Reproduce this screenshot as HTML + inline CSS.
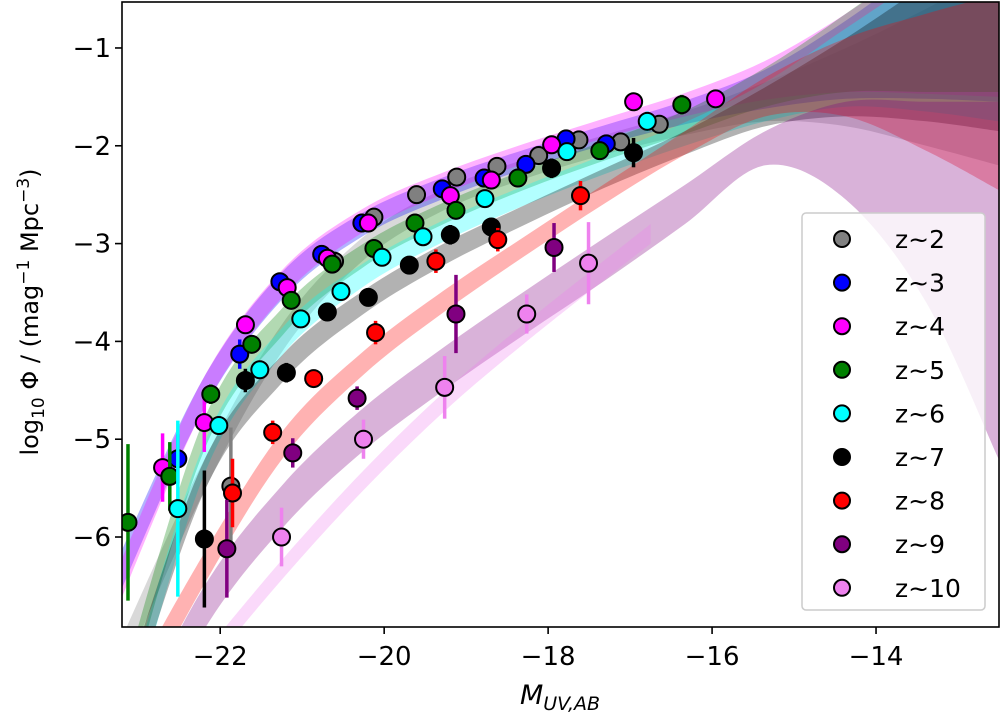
<!DOCTYPE html>
<html><head><meta charset="utf-8">
<style>
html,body{margin:0;padding:0;background:#fff;overflow:hidden;width:1001px;height:720px;}
svg{display:block;font-family:"DejaVu Sans","Liberation Sans",sans-serif;}
</style></head>
<body>
<svg id="chart" width="1001" height="720" viewBox="0 0 1001 720" xmlns="http://www.w3.org/2000/svg">
<defs><clipPath id="plotclip"><rect x="122" y="2" width="877" height="625"/></clipPath></defs>
<g id="bands" clip-path="url(#plotclip)"></g>
<g id="points" clip-path="url(#plotclip)"></g>
<g id="axes"></g>
<g id="legend"></g>
</svg>
<script>
const NS="http://www.w3.org/2000/svg";
// axis scales
const xMin=-23.198, xMax=-12.50, yMin=-6.92, yMax=-0.53;
const X0=122, X1=999, Y0=627, Y1=2;
function sx(m){return X0+(m-xMin)/(xMax-xMin)*(X1-X0);}
function sy(v){return Y0-(v-yMin)/(yMax-yMin)*(Y0-Y1);}

const labels=["z~2","z~3","z~4","z~5","z~6","z~7","z~8","z~9","z~10"];
const colors=["#808080","#0000ff","#ff00ff","#008000","#00ffff","#000000","#ff0000","#800080","#ee82ee"];

// data points
const m2=[-21.87,-20.605,-20.125,-19.605,-19.115,-18.624,-18.115,-17.624,-17.115,-16.644];
const p2=[-5.48,-3.18,-2.73,-2.50,-2.32,-2.21,-2.10,-1.94,-1.96,-1.78];
const e2=[0.6,0.1,0.05,0.05,0.05,0.05,0.05,0.05,0.05,0.05];
const m3=[-22.517,-21.762,-21.272,-20.762,-20.272,-19.291,-18.781,-18.271,-17.781,-17.291];
const p3=[-5.20,-4.13,-3.39,-3.11,-2.79,-2.44,-2.33,-2.19,-1.93,-1.98];
const e3=[0.25,0.15,0.05,0.05,0.05,0.05,0.05,0.05,0.05,0.05];
const m4=[-22.703,-22.194,-21.692,-21.183,-20.693,-20.193,-19.193,-18.693,-17.957,-16.957,-15.957];
const p4=[-5.29,-4.83,-3.83,-3.45,-3.15,-2.79,-2.51,-2.35,-1.99,-1.55,-1.52];
const e4=[0.35,0.3,0.07,0.05,0.05,0.05,0.05,0.05,0.05,0.05,0.08];
const m5=[-23.125,-22.615,-22.115,-21.615,-21.134,-20.634,-20.125,-19.624,-19.124,-18.369,-17.369,-16.369];
const p5=[-5.85,-5.38,-4.54,-4.03,-3.58,-3.21,-3.05,-2.79,-2.66,-2.33,-2.05,-1.58];
const e5=[0.8,0.35,0.1,0.05,0.08,0.05,0.05,0.05,0.05,0.05,0.05,0.1];
const m6=[-22.517,-22.017,-21.517,-21.017,-20.527,-20.026,-19.526,-18.771,-17.771,-16.791];
const p6=[-5.71,-4.86,-4.29,-3.77,-3.49,-3.14,-2.93,-2.54,-2.06,-1.75];
const e6=[0.9,0.1,0.08,0.05,0.05,0.05,0.05,0.05,0.08,0.1];
const m7=[-22.193,-21.693,-21.193,-20.693,-20.193,-19.693,-19.193,-18.693,-17.958,-16.958];
const p7=[-6.02,-4.40,-4.32,-3.70,-3.55,-3.22,-2.91,-2.83,-2.23,-2.07];
const e7=[0.7,0.12,0.1,0.05,0.05,0.05,0.1,0.08,0.1,0.15];
const m8=[-21.85,-21.36,-20.86,-20.105,-19.369,-18.614,-17.605];
const p8=[-5.55,-4.93,-4.38,-3.91,-3.18,-2.96,-2.51];
const e8=[0.35,0.12,0.08,0.12,0.12,0.12,0.15];
const m9=[-21.919,-21.115,-20.33,-19.124,-17.928];
const p9=[-6.12,-5.14,-4.58,-3.72,-3.04];
const e9=[0.5,0.15,0.12,0.4,0.25];
const m10=[-21.252,-20.252,-19.262,-18.261,-17.507];
const p10=[-6.00,-5.00,-4.47,-3.72,-3.20];
const e10=[0.3,0.2,0.32,0.2,0.42];
const seriesM=[m2,m3,m4,m5,m6,m7,m8,m9,m10];
const seriesP=[p2,p3,p4,p5,p6,p7,p8,p9,p10];
const seriesE=[e2,e3,e4,e5,e6,e7,e8,e9,e10];

// model bands (knots in magnitude, centres, half widths)
const bandM=[-23.291,-22.213,-21.233,-20.252,-19.272,-18.291,-17.311,-16.33,-15.35,-14.369,-13.389,-12.506];
const bandHW=[0.2,0.16,0.14,0.12,0.11,0.1,0.1,0.12,0.2,0.4,0.7,1.0];
const c2=[-7.4,-5.4,-3.95,-3.05,-2.55,-2.24,-1.99,-1.77,-1.55,-1.4,-1.3,-1.2];
const c3=[-6.5,-4.55,-3.42,-2.8,-2.43,-2.14,-1.89,-1.66,-1.42,-1.12,-0.82,-0.55];
const c4=[-6.6,-4.55,-3.40,-2.76,-2.38,-2.08,-1.82,-1.58,-1.33,-1.05,-0.77,-0.5];
const c5=[-7.96,-4.99,-3.79,-3.12,-2.69,-2.35,-2.05,-1.76,-1.4,-1.05,-0.75,-0.45];
const c6=[-8.26,-5.24,-3.99,-3.32,-2.87,-2.51,-2.19,-1.88,-1.55,-1.2,-0.95,-0.75];
const c7=[-8.05,-5.41,-4.27,-3.6,-3.11,-2.71,-2.33,-1.97,-1.6,-1.3,-1.05,-0.85];
const c8=[-8.0,-6.35,-5.05,-4.22,-3.59,-3.03,-2.49,-1.97,-1.5,-1.3,-1.35,-1.45];
const z9hi=[-8.28,-6.53,-5.46,-4.68,-4.06,-3.49,-2.94,-2.4,-1.85,-1.55,-1.55,-1.55];
const z9lo=[-8.72,-6.97,-5.9,-5.12,-4.5,-3.93,-3.38,-2.8,-2.2,-2.55,-3.6,-5.2];
const z10M=[-22.213,-21.233,-20.252,-19.272,-18.291,-16.75];
const z10C=[-7.3,-6.32,-5.42,-4.62,-3.92,-2.9];
const z10HW=[0.1,0.1,0.1,0.1,0.1,0.1];
const bandC=[c2,c3,c4,c5,c6,c7,c8];

function smoothPath(pts){
  let d="M"+pts[0][0].toFixed(1)+","+pts[0][1].toFixed(1);
  for(let i=0;i<pts.length-1;i++){
    const p0=pts[Math.max(0,i-1)],p1=pts[i],p2=pts[i+1],p3=pts[Math.min(pts.length-1,i+2)];
    const c1=[p1[0]+(p2[0]-p0[0])/6,p1[1]+(p2[1]-p0[1])/6];
    const cc=[p2[0]-(p3[0]-p1[0])/6,p2[1]-(p3[1]-p1[1])/6];
    d+="C"+c1[0].toFixed(1)+","+c1[1].toFixed(1)+" "+cc[0].toFixed(1)+","+cc[1].toFixed(1)+" "+p2[0].toFixed(1)+","+p2[1].toFixed(1);
  }
  return d;
}
function bandPath(ms,hi,lo){
  const up=ms.map((m,i)=>[sx(m),sy(hi[i])]);
  const dn=ms.map((m,i)=>[sx(m),sy(lo[i])]).reverse();
  let d=smoothPath(up);
  d+="L"+smoothPath(dn).slice(1)+"Z";
  return d;
}
const bandsG=document.getElementById("bands");
function addBand(d,color,name){
  const p=document.createElementNS(NS,"path");
  p.setAttribute("d",d);p.setAttribute("fill",color);p.setAttribute("fill-opacity","0.3");
  
  
  bandsG.appendChild(p);
}
bandC.forEach((c,k)=>{
  addBand(bandPath(bandM,c.map((v,i)=>v+bandHW[i]),c.map((v,i)=>v-bandHW[i])),colors[k],"band-z"+(k+2));
});
addBand(bandPath(bandM,z9hi,z9lo),colors[7],"band-z9");
addBand(bandPath(z10M,z10C.map((v,i)=>v+z10HW[i]),z10C.map((v,i)=>v-z10HW[i])),colors[8],"band-z10");

// points
const ptsG=document.getElementById("points");
seriesM.forEach((ms,k)=>{
  ms.forEach((m,i)=>{
    const x=sx(m),y=sy(seriesP[k][i]),e=seriesE[k][i];
    const l=document.createElementNS(NS,"line");
    l.setAttribute("x1",x);l.setAttribute("x2",x);
    l.setAttribute("y1",sy(seriesP[k][i]+e));l.setAttribute("y2",sy(seriesP[k][i]-e));
    l.setAttribute("stroke",colors[k]);l.setAttribute("stroke-width","3.5");
    
    
    ptsG.appendChild(l);
    const c=document.createElementNS(NS,"circle");
    c.setAttribute("cx",x);c.setAttribute("cy",y);c.setAttribute("r","8.5");
    c.setAttribute("fill",colors[k]);c.setAttribute("stroke","#000");c.setAttribute("stroke-width","2");
    
    
    ptsG.appendChild(c);
  });
});

// axes
const ax=document.getElementById("axes");
function el(tag,attrs,parent,text){const e=document.createElementNS(NS,tag);for(const a in attrs)e.setAttribute(a,attrs[a]);if(text!==undefined)e.textContent=text;parent.appendChild(e);return e;}
const frame=el("rect",{x:X0,y:Y1,width:X1-X0,height:Y0-Y1,fill:"none",stroke:"#000","stroke-width":"1.6"},ax);


const xTicks=[-22,-20,-18,-16,-14];
const yTicks=[-6,-5,-4,-3,-2,-1];
xTicks.forEach(t=>{
  const x=sx(t);
  const tk=el("line",{x1:x,x2:x,y1:Y0,y2:Y0+7,stroke:"#000","stroke-width":"1.6"},ax);
  
  
  const tl=el("text",{x:x,y:Y0+38,"text-anchor":"middle","font-size":"26"},ax,"\u2212"+Math.abs(t));
  
  
});
yTicks.forEach(t=>{
  const y=sy(t);
  const tk=el("line",{x1:X0-7,x2:X0,y1:y,y2:y,stroke:"#000","stroke-width":"1.6"},ax);
  
  
  const tl=el("text",{x:X0-11,y:y+9,"text-anchor":"end","font-size":"26"},ax,"\u2212"+Math.abs(t));
  
  
});
</script>
<script>
(function(){
const NS="http://www.w3.org/2000/svg";
const svg=document.getElementById("chart");
const xt=document.createElementNS(NS,"text");
xt.setAttribute("x","560");xt.setAttribute("y","704");xt.setAttribute("text-anchor","middle");
xt.setAttribute("font-size","27");xt.setAttribute("font-style","italic");
xt.innerHTML='M<tspan font-size="19" dy="6">UV,AB</tspan>';


svg.appendChild(xt);
const yt=document.createElementNS(NS,"text");
yt.setAttribute("transform","translate(38,312) rotate(-90)");
yt.setAttribute("text-anchor","middle");yt.setAttribute("font-size","24");
yt.innerHTML='log<tspan font-size="17" dy="6">10</tspan><tspan dy="-6"> Φ / (mag</tspan><tspan font-size="17" dy="-9">−1</tspan><tspan dy="9"> Mpc</tspan><tspan font-size="17" dy="-9">−3</tspan><tspan dy="9">)</tspan>';


svg.appendChild(yt);

const lg=document.getElementById("legend");
const box=document.createElementNS(NS,"rect");
box.setAttribute("x","802");box.setAttribute("y","213");box.setAttribute("width","183");box.setAttribute("height","397");
box.setAttribute("rx","4");box.setAttribute("fill","#fff");box.setAttribute("fill-opacity","0.8");
box.setAttribute("stroke","#ccc");box.setAttribute("stroke-width","1.5");


lg.appendChild(box);
const labs=["z~2","z~3","z~4","z~5","z~6","z~7","z~8","z~9","z~10"];
const cols=["#808080","#0000ff","#ff00ff","#008000","#00ffff","#000000","#ff0000","#800080","#ee82ee"];
labs.forEach((t,i)=>{
  const y=239+i*43.6;
  const g=document.createElementNS(NS,"g");
  
  
  const c=document.createElementNS(NS,"circle");
  c.setAttribute("cx","842");c.setAttribute("cy",y);c.setAttribute("r","8");
  c.setAttribute("fill",cols[i]);c.setAttribute("stroke","#000");c.setAttribute("stroke-width","2");
  
  
  g.appendChild(c);
  const tx=document.createElementNS(NS,"text");
  tx.setAttribute("x","895");tx.setAttribute("y",y+9);tx.setAttribute("font-size","25");
  tx.textContent=t;
  
  
  g.appendChild(tx);
  lg.appendChild(g);
});
})();
</script>
</body></html>
